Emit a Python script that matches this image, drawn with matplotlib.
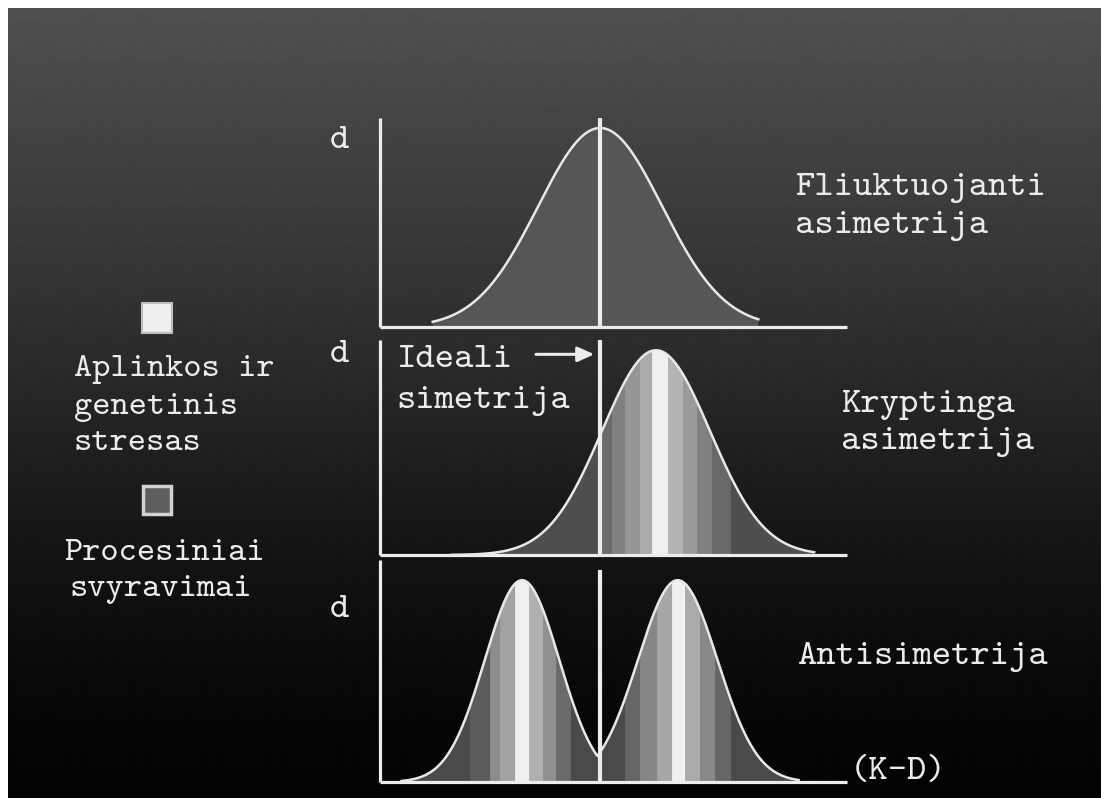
import matplotlib.pyplot as plt
import numpy as np
from matplotlib.patches import Polygon, Rectangle

# horizontal axis in (K-D) units, one unit = spread of the fluctuating curve
fa_center, fa_sigma, fa_peak = 0.0, 1.0, 1.0
fa_span = (-2.7, 2.55)

da_center, da_sigma, da_peak = 0.9, 0.87, 1.0
da_span = (-2.4, 3.45)

as_centers = [-1.26, 1.25]
as_sigmas = [0.60, 0.64]
as_peak = 1.0
as_span = (-3.2, 3.2)

# stress bands inside the directional curve
da_edges = [0.0, 0.19, 0.40, 0.65, 0.84, 1.10, 1.34, 1.56, 1.81, 2.10]
da_greys = ["#6a6a6a", "#808080", "#969696", "#aaaaaa", "#f0f0f0",
            "#b4b4b4", "#9a9a9a", "#808080", "#686868"]

# stress bands inside the two antisymmetry humps
as_left_edges = [-2.10, -1.77, -1.61, -1.37, -1.15, -0.92, -0.71, -0.48]
as_left_greys = ["#5c5c5c", "#8c8c8c", "#a2a2a2", "#f0f0f0",
                 "#b0b0b0", "#909090", "#6a6a6a"]
as_right_edges = [0.40, 0.65, 0.92, 1.16, 1.37, 1.61, 1.85, 2.10]
as_right_greys = ["#666666", "#868686", "#a6a6a6", "#f0f0f0",
                  "#aaaaaa", "#888888", "#666666"]

W, H = 1101, 798
WHITE = "#ececec"
FONT = "cmtt10"


def gauss(x, mu, s, h):
    return h * np.exp(-(x - mu) ** 2 / (2 * s ** 2))


def px_box(left, top, right, bottom):
    return [left / W, 1 - bottom / H, (right - left) / W, (bottom - top) / H]


def put(x, y, s, size=26.5, **kw):
    fig.text(x / W, 1 - y / H, s, color=WHITE, fontsize=size,
             family=FONT, va="center", ha="left", **kw)


def panel(box, ytop, line_top):
    ax = fig.add_axes(box)
    ax.set_xlim(-3.55, 3.98)
    ax.set_ylim(0, ytop)
    ax.patch.set_visible(False)
    for side in ("top", "right"):
        ax.spines[side].set_visible(False)
    for side in ("left", "bottom"):
        ax.spines[side].set_color(WHITE)
        ax.spines[side].set_linewidth(2.3)
        ax.spines[side].set_capstyle("butt")
    ax.set_xticks([])
    ax.set_yticks([])
    ax.axvline(0, ymin=0, ymax=line_top, color=WHITE, lw=3.0, zorder=5)
    return ax


def curve(ax, x, y, base, bands=()):
    verts = np.column_stack([np.r_[x[0], x, x[-1]], np.r_[0, y, 0]])
    shape = Polygon(verts, closed=True, facecolor=base, edgecolor="none",
                    zorder=1)
    ax.add_patch(shape)
    for edges, greys in bands:
        for x0, x1, g in zip(edges[:-1], edges[1:], greys):
            band = ax.axvspan(x0, x1, facecolor=g, edgecolor=g, lw=0.6,
                              zorder=2)
            band.set_clip_path(shape)
    ax.plot(x, y, color="#e8e8e8", lw=1.8, zorder=4)


fig = plt.figure(figsize=(W / 100, H / 100), dpi=100, facecolor="white")

# dark slide background fading to black
bg = fig.add_axes(px_box(8, 8, W, H))
rows = np.arange(8, H)
shade = np.interp(rows, [8, 300, 550, 720, H], [80, 50, 20, 6, 3]) / 255
bg.imshow(shade[:, None], cmap="gray", vmin=0, vmax=1, aspect="auto",
          interpolation="bilinear")
bg.set_axis_off()

# fluctuating asymmetry
ax1 = panel(px_box(380, 118, 847, 327), 1.05, 1.0)
x = np.linspace(*fa_span, 600)
curve(ax1, x, gauss(x, fa_center, fa_sigma, fa_peak), "#565656")

# directional (cryptic) asymmetry
ax2 = panel(px_box(380, 340, 847, 555), 1.05, 0.99)
x = np.linspace(*da_span, 600)
curve(ax2, x, gauss(x, da_center, da_sigma, da_peak), "#4e4e4e",
      [(da_edges, da_greys)])
ax2.annotate("", xy=(-0.05, 0.98), xytext=(-1.08, 0.98),
             arrowprops=dict(arrowstyle="-|>,head_length=1.0,head_width=0.45",
                             color=WHITE, lw=2.2), zorder=6)

# antisymmetry
ax3 = panel(px_box(380, 560, 847, 782), 1.1, 0.946)
x = np.linspace(*as_span, 800)
y = np.maximum(gauss(x, as_centers[0], as_sigmas[0], as_peak),
               gauss(x, as_centers[1], as_sigmas[1], as_peak))
curve(ax3, x, y, "#4a4a4a",
      [(as_left_edges, as_left_greys), (as_right_edges, as_right_greys)])

# axis letters
for yy in (141, 355, 610):
    put(330, yy, "d")
put(850, 772, "(K-D)")

# curve names
put(795, 188, "Fliuktuojanti")
put(795, 226, "asimetrija")
put(841, 405, "Kryptinga")
put(841, 442, "asimetrija")
put(797, 657, "Antisimetrija")
put(396, 360, "Ideali")
put(396, 401, "simetrija")

# key
fig.add_artist(Rectangle((142 / W, 1 - 333 / H), 30 / W, 30 / H,
                         facecolor="#eeeeee", edgecolor="#bdbdbd", lw=1.5,
                         transform=fig.transFigure))
fig.add_artist(Rectangle((143 / W, 1 - 514 / H), 28 / W, 28 / H,
                         facecolor="#5e5e5e", edgecolor="#d2d2d2", lw=2.5,
                         transform=fig.transFigure))
put(74, 370, "Aplinkos ir", size=25)
put(74, 407, "genetinis", size=25)
put(74, 443, "stresas", size=25)
put(64, 553, "Procesiniai", size=25)
put(70, 590, "svyravimai", size=25)

fig.savefig("out.png", dpi=100, facecolor=fig.get_facecolor())
